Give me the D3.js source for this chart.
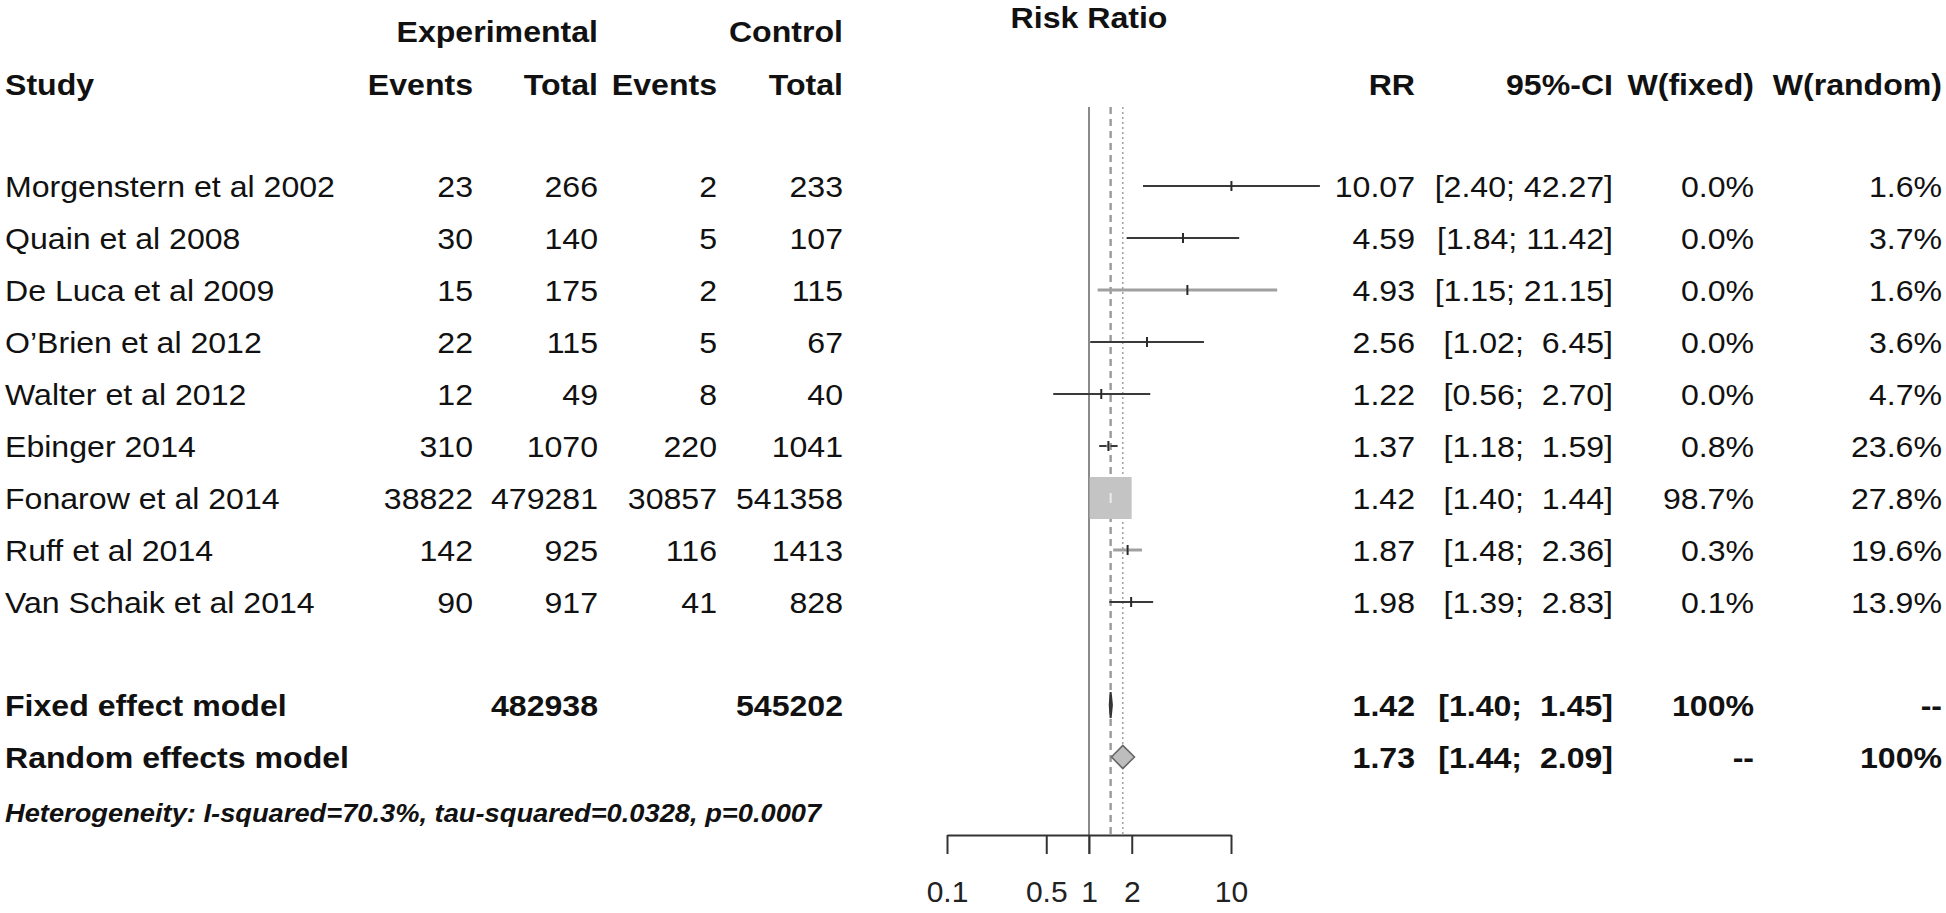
<!DOCTYPE html>
<html>
<head>
<meta charset="utf-8">
<script src="https://cdn.jsdelivr.net/npm/d3@7"></script>
<style>
body { margin: 0; background: #fff; }
svg text { font-family: "Liberation Sans", Arial, sans-serif; white-space: pre; fill: #111; }
</style>
</head>
<body>
<div id="forest"><svg class="diagram"></svg></div>
<script>

var studies = ["Morgenstern et al 2002", "Quain et al 2008", "De Luca et al 2009", "O\u2019Brien et al 2012",
    "Walter et al 2012", "Ebinger 2014", "Fonarow et al 2014", "Ruff et al 2014", "Van Schaik et al 2014"];
var expEvents = [23, 30, 15, 22, 12, 310, 38822, 142, 90];
var expTotal = [266, 140, 175, 115, 49, 1070, 479281, 925, 917];
var ctrlEvents = [2, 5, 2, 5, 8, 220, 30857, 116, 41];
var ctrlTotal = [233, 107, 115, 67, 40, 1041, 541358, 1413, 828];
var rr = [10.07, 4.59, 4.93, 2.56, 1.22, 1.37, 1.42, 1.87, 1.98];
var lower = [2.40, 1.84, 1.15, 1.02, 0.56, 1.18, 1.40, 1.48, 1.39];
var upper = [42.27, 11.42, 21.15, 6.45, 2.70, 1.59, 1.44, 2.36, 2.83];
var wFixed = [0.0, 0.0, 0.0, 0.0, 0.0, 0.8, 98.7, 0.3, 0.1];
var wRandom = [1.6, 3.7, 1.6, 3.6, 4.7, 23.6, 27.8, 19.6, 13.9];

// pooled models: name, total exp, total ctrl, rr, lower, upper, w(fixed), w(random)
var models = [
    ["Fixed effect model", 482938, 545202, 1.42, 1.40, 1.45, "100%", "--"],
    ["Random effects model", null, null, 1.73, 1.44, 2.09, "--", "100%"]
];
var heterogeneity = "Heterogeneity: I-squared=70.3%, tau-squared=0.0328, p=0.0007";
var axisTicks = [0.1, 0.5, 1, 2, 10];

var width = 1946, height = 913;
var svg = d3.select("#forest").select("svg").attr("width", width).attr("height", height);

var x = d3.scaleLog().domain([0.1, 10]).range([947, 1231]);
var rowY = function(i){ return 186 + i * 52; };
var fixedY = 705, randomY = 757;

// column right edges
var col = {evE: 473, totE: 598, evC: 717, totC: 843, rr: 1415, ci: 1613, wf: 1754, wr: 1942};

// the original text is a bit wider than Liberation Sans, so stretch it horizontally
function txt(xp, yp, s, anchor, bold, size){
    return svg.append("text")
      .attr("transform", "translate(" + xp + "," + yp + ") scale(1.07,1)")
      .attr("dy", "0.36em")
      .attr("text-anchor", anchor || "end")
      .style("font-size", (size || 30) + "px")
      .style("font-weight", bold ? "bold" : "normal")
      .text(s);
}

function fmtCI(l, u){
    var a = l.toFixed(2), b = u.toFixed(2);
    if(b.length < 5) b = " " + b;
    return "[" + a + "; " + b + "]";
}

/***********************************************************************************************************/
// headers
txt(col.totE, 31, "Experimental", "end", true);
txt(col.totC, 31, "Control", "end", true);
txt(5, 84, "Study", "start", true);
txt(col.evE, 84, "Events", "end", true);
txt(col.totE, 84, "Total", "end", true);
txt(col.evC, 84, "Events", "end", true);
txt(col.totC, 84, "Total", "end", true);
txt(x(1), 17, "Risk Ratio", "middle", true);
txt(col.rr, 84, "RR", "end", true);
txt(col.ci, 84, "95%-CI", "end", true);
txt(col.wf, 84, "W(fixed)", "end", true);
txt(col.wr, 84, "W(random)", "end", true);

// reference lines
var lineTop = 107, axisY = 835;
svg.append("line").attr("x1", x(1)).attr("x2", x(1)).attr("y1", lineTop).attr("y2", axisY + 19)
    .style("stroke", "#8a8a8a").style("stroke-width", 2);
svg.append("line").attr("x1", x(models[0][3])).attr("x2", x(models[0][3])).attr("y1", lineTop).attr("y2", axisY)
    .style("stroke", "#9a9a9a").style("stroke-width", 2.4).style("stroke-dasharray", "7,5");
svg.append("line").attr("x1", x(models[1][3])).attr("x2", x(models[1][3])).attr("y1", lineTop).attr("y2", axisY)
    .style("stroke", "#9a9a9a").style("stroke-width", 1.4).style("stroke-dasharray", "2,3");

// study rows
var maxW = d3.max(wFixed);
studies.forEach(function(name, i){
    var y = rowY(i);
    txt(5, y, name, "start");
    txt(col.evE, y, String(expEvents[i]));
    txt(col.totE, y, String(expTotal[i]));
    txt(col.evC, y, String(ctrlEvents[i]));
    txt(col.totC, y, String(ctrlTotal[i]));
    txt(col.rr, y, rr[i].toFixed(2));
    txt(col.ci, y, fmtCI(lower[i], upper[i]));
    txt(col.wf, y, wFixed[i].toFixed(1) + "%");
    txt(col.wr, y, wRandom[i].toFixed(1) + "%");

    var light = (i === 2 || i === 7);
    svg.append("line").attr("x1", x(lower[i])).attr("x2", x(upper[i])).attr("y1", y).attr("y2", y)
        .style("stroke", light ? "#a0a0a0" : "#3a3a3a").style("stroke-width", light ? 3 : 2);

    var side = Math.sqrt(wFixed[i] / maxW) * 42;
    if(side > 2){
        svg.append("rect").attr("x", x(rr[i]) - side / 2).attr("y", y - side / 2)
            .attr("width", side).attr("height", side).style("fill", "#c4c4c4");
    }
    svg.append("line").attr("x1", x(rr[i])).attr("x2", x(rr[i])).attr("y1", y - 5).attr("y2", y + 5)
        .style("stroke", side > 12 ? "#ececec" : "#2a2a2a").style("stroke-width", 2);
});

// pooled estimates
models.forEach(function(m, k){
    var y = k === 0 ? fixedY : randomY;
    txt(5, y, m[0], "start", true);
    if(m[1] !== null) txt(col.totE, y, String(m[1]), "end", true);
    if(m[2] !== null) txt(col.totC, y, String(m[2]), "end", true);
    txt(col.rr, y, m[3].toFixed(2), "end", true);
    txt(col.ci, y, fmtCI(m[4], m[5]), "end", true);
    txt(col.wf, y, m[6], "end", true);
    txt(col.wr, y, m[7], "end", true);

    var h = k === 0 ? 13 : 11.5;
    var pts = [[x(m[4]), y], [x(m[3]), y - h], [x(m[5]), y], [x(m[3]), y + h]];
    svg.append("path").attr("d", d3.line()(pts) + "Z")
        .style("fill", "#bdbdbd").style("stroke", k === 0 ? "#333" : "#666").style("stroke-width", k === 0 ? 2 : 1.6);
});

txt(5, 813, heterogeneity, "start", true, 25.5).style("font-style", "italic");

// axis
var axis = d3.axisBottom(x).tickValues(axisTicks).tickSize(19).tickSizeOuter(0).tickPadding(27)
    .tickFormat(function(d){ return String(d); });
var g = svg.append("g").attr("transform", "translate(0," + axisY + ")").call(axis);
g.select(".domain").style("stroke", "#333").style("stroke-width", 2);
g.selectAll(".tick line").style("stroke", "#333").style("stroke-width", 2);
g.selectAll(".tick text").style("font-size", "30px").style("font-family", "Liberation Sans, Arial, sans-serif")
    .style("fill", "#222");

</script>
</body>
</html>
